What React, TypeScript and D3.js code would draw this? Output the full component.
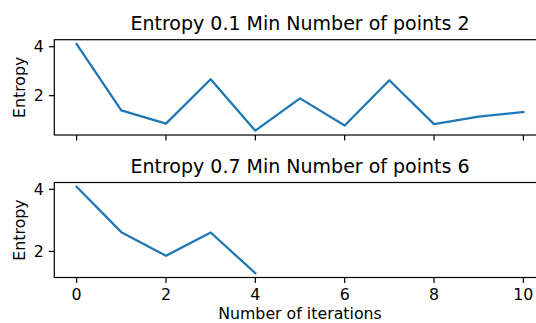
import React, { useRef, useEffect } from "react";
import * as d3 from "d3";

// iterations 0..10 for the first run, 0..4 for the second
const iterationsTop = [0, 1, 2, 3, 4, 5, 6, 7, 8, 9, 10];
const entropyTop = [4.11, 1.4, 0.86, 2.67, 0.57, 1.89, 0.78, 2.63, 0.84, 1.14, 1.33];

const iterationsBottom = [0, 1, 2, 3, 4];
const entropyBottom = [4.08, 2.62, 1.86, 2.61, 1.3];

const titles = ["Entropy 0.1 Min Number of points 2", "Entropy 0.7 Min Number of points 6"];
const xTicks = [0, 2, 4, 6, 8, 10];
const yTicks = [2, 4];

const App = () => {
  const ref = useRef<SVGSVGElement>(null);

  useEffect(() => {
    document.body.style.margin = "0";
    const svg = d3.select(ref.current);
    svg.selectAll("*").remove();

    const font = "DejaVu Sans, sans-serif";
    const left = 54.3;
    const right = 545.7;
    const tickLen = 5.4;

    const xScale = d3.scaleLinear().domain([-0.5, 10.5]).range([left, right]);

    const panels = [
      { xs: iterationsTop, ys: entropyTop, top: 39.7, bottom: 135, title: titles[0], labels: false },
      { xs: iterationsBottom, ys: entropyBottom, top: 182.5, bottom: 277.5, title: titles[1], labels: true },
    ];

    panels.forEach((p) => {
      const [mn, mx] = d3.extent(p.ys) as [number, number];
      const pad = (mx - mn) * 0.05;
      const yScale = d3.scaleLinear().domain([mn - pad, mx + pad]).range([p.bottom, p.top]);

      const g = svg.append("g");

      // line
      const line = d3
        .line<number>()
        .x((_, i) => xScale(p.xs[i]))
        .y((d) => yScale(d));
      g.append("path")
        .datum(p.ys)
        .attr("fill", "none")
        .attr("stroke", "#1f77b4")
        .attr("stroke-width", 2.3)
        .attr("stroke-linejoin", "round")
        .attr("stroke-linecap", "square")
        .attr("d", line);

      // spines
      g.append("rect")
        .attr("x", left)
        .attr("y", p.top)
        .attr("width", right - left)
        .attr("height", p.bottom - p.top)
        .attr("fill", "none")
        .attr("stroke", "#000")
        .attr("stroke-width", 1.2);

      // x ticks
      xTicks.forEach((t) => {
        g.append("line")
          .attr("x1", xScale(t))
          .attr("x2", xScale(t))
          .attr("y1", p.bottom)
          .attr("y2", p.bottom + tickLen)
          .attr("stroke", "#000")
          .attr("stroke-width", 1.2);
        if (p.labels) {
          g.append("text")
            .attr("x", xScale(t))
            .attr("y", 299.5)
            .attr("text-anchor", "middle")
            .attr("font-family", font)
            .attr("font-size", 15.8)
            .attr("fill", "#000")
            .text(t);
        }
      });

      // y ticks
      yTicks.forEach((t) => {
        g.append("line")
          .attr("x1", left - tickLen)
          .attr("x2", left)
          .attr("y1", yScale(t))
          .attr("y2", yScale(t))
          .attr("stroke", "#000")
          .attr("stroke-width", 1.2);
        g.append("text")
          .attr("x", left - tickLen - 5.2)
          .attr("y", yScale(t))
          .attr("dy", "0.36em")
          .attr("text-anchor", "end")
          .attr("font-family", font)
          .attr("font-size", 15.8)
          .attr("fill", "#000")
          .text(t);
      });

      // title
      g.append("text")
        .attr("x", (left + right) / 2)
        .attr("y", p.top - 9.4)
        .attr("text-anchor", "middle")
        .attr("font-family", font)
        .attr("font-size", 19)
        .attr("fill", "#000")
        .text(p.title);

      // y label
      g.append("text")
        .attr("transform", `translate(24.5,${(p.top + p.bottom) / 2}) rotate(-90)`)
        .attr("text-anchor", "middle")
        .attr("font-family", font)
        .attr("font-size", 15.8)
        .attr("fill", "#000")
        .text("Entropy");
    });

    // x label
    svg
      .append("text")
      .attr("x", (left + right) / 2)
      .attr("y", 319)
      .attr("text-anchor", "middle")
      .attr("font-family", font)
      .attr("font-size", 15.8)
      .attr("fill", "#000")
      .text("Number of iterations");
  }, []);

  return <svg ref={ref} width={536} height={323} style={{ display: "block", background: "#fff" }}></svg>;
};

export default App;
